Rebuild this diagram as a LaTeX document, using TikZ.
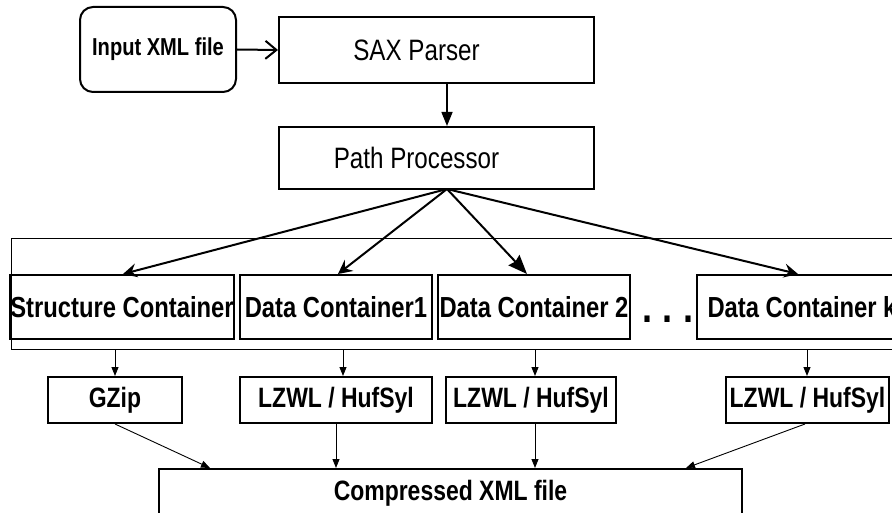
\documentclass[tikz,border=0pt]{standalone}
\usepackage{fontspec}
\setmainfont{Liberation Sans}[FakeStretch=0.82]
\usetikzlibrary{arrows.meta}

\tikzset{
  box/.style={draw, line width=2pt, inner sep=0pt},
  boldlbl/.style={font=\bfseries\fontsize{29}{31}\selectfont},
  smalllbl/.style={font=\bfseries\fontsize{28}{30}\selectfont},
  plainlbl/.style={font=\fontsize{29.5}{31}\selectfont},
  fan/.style={line width=2pt, -{Stealth[length=14pt,width=14pt,inset=5pt]}},
  thinarrow/.style={line width=0.9pt, -{Triangle[length=9pt,width=7pt]}},
}

\begin{document}
\begin{tikzpicture}[x=1pt,y=-1pt]
  \useasboundingbox (0,0) rectangle (892,513);
  \clip (0,0) rectangle (892,513);

  % input file and the parsing stages
  \node[box, rounded corners=13pt, minimum width=156pt, minimum height=85pt,
        font=\bfseries\fontsize{24.5}{26}\selectfont] (input) at (158,49.5) {Input XML file};
  \node[box, plainlbl, minimum width=315pt, minimum height=66pt] (sax) at (436.5,50)
       {\raisebox{-3pt}{SAX Parser}\rule{40pt}{0pt}};
  \node[box, plainlbl, minimum width=315pt, minimum height=62pt] (path) at (436.5,158)
       {Path Processor\rule{40pt}{0pt}};

  % frame holding all containers
  \node[draw, line width=1pt, inner sep=0pt, minimum width=900pt, minimum height=111pt,
        anchor=north west] (group) at (11,238) {};

  % containers
  \node[box, boldlbl, minimum width=222pt, minimum height=64pt] (struct) at (122,307) {Structure Container};
  \node[box, boldlbl, minimum width=192pt, minimum height=64pt] (dc1) at (336,307) {Data Container1};
  \node[box, boldlbl, minimum width=192pt, minimum height=64pt] (dc2) at (534,307) {Data Container 2};
  \node[box, boldlbl, minimum width=210pt, minimum height=64pt] (dck) at (802,307) {Data Container k};
  \node[font=\bfseries\fontsize{44}{46}\selectfont, inner sep=0pt, anchor=base] (dots) at (668,323)
       {.\hspace{10pt}.\hspace{10pt}.};

  % compressors
  \node[box, smalllbl, minimum width=134pt, minimum height=46pt] (gzip) at (115,400) {GZip};
  \node[box, smalllbl, minimum width=192pt, minimum height=46pt] (lz1) at (336,400) {LZWL / HufSyl};
  \node[box, smalllbl, minimum width=170pt, minimum height=46pt] (lz2) at (531,400) {LZWL / HufSyl};
  \node[box, smalllbl, minimum width=163pt, minimum height=46pt] (lzk) at (807.5,400) {LZWL / HufSyl};

  % output
  \node[box, smalllbl, minimum width=583pt, minimum height=48pt] (comp) at (450.5,493) {Compressed XML file};

  % connector end points
  \coordinate (fanroot) at (447,189);
  \coordinate (saxout) at (447,83);

  % parsing flow
  \draw[line width=2pt, -{Straight Barb[length=11pt,width=18pt]}] (input.east) -- (sax.west);
  \draw[line width=1.5pt, -{Triangle[length=14pt,width=11pt]}] (saxout) -- (saxout |- path.north);

  % distribution to containers
  \draw[fan] (fanroot) -- (struct.north -| 123,0);
  \draw[fan] (fanroot) -- (dc1.north -| 338,0);
  \draw[line width=2pt, -{Stealth[length=19pt,width=15pt,inset=2pt]}] (fanroot) -- (dc2.north -| 527,0);
  \draw[fan] (fanroot) -- (dck.north -| 798,0);

  % containers to compressors
  \draw[thinarrow] (group.south -| gzip.north) -- (gzip.north);
  \draw[thinarrow] (group.south -| 343,0) -- (lz1.north -| 343,0);
  \draw[thinarrow] (group.south -| 535,0) -- (lz2.north -| 535,0);
  \draw[thinarrow] (group.south -| 807,0) -- (lzk.north -| 807,0);

  % compressors to output
  \draw[thinarrow] (gzip.south) -- (comp.north -| 210,0);
  \draw[thinarrow] (lz1.south) -- (comp.north -| 336,0);
  \draw[thinarrow] (lz2.south -| 535,0) -- (comp.north -| 535,0);
  \draw[thinarrow] (lzk.south -| 805,0) -- (comp.north -| 686,0);
\end{tikzpicture}
\end{document}
